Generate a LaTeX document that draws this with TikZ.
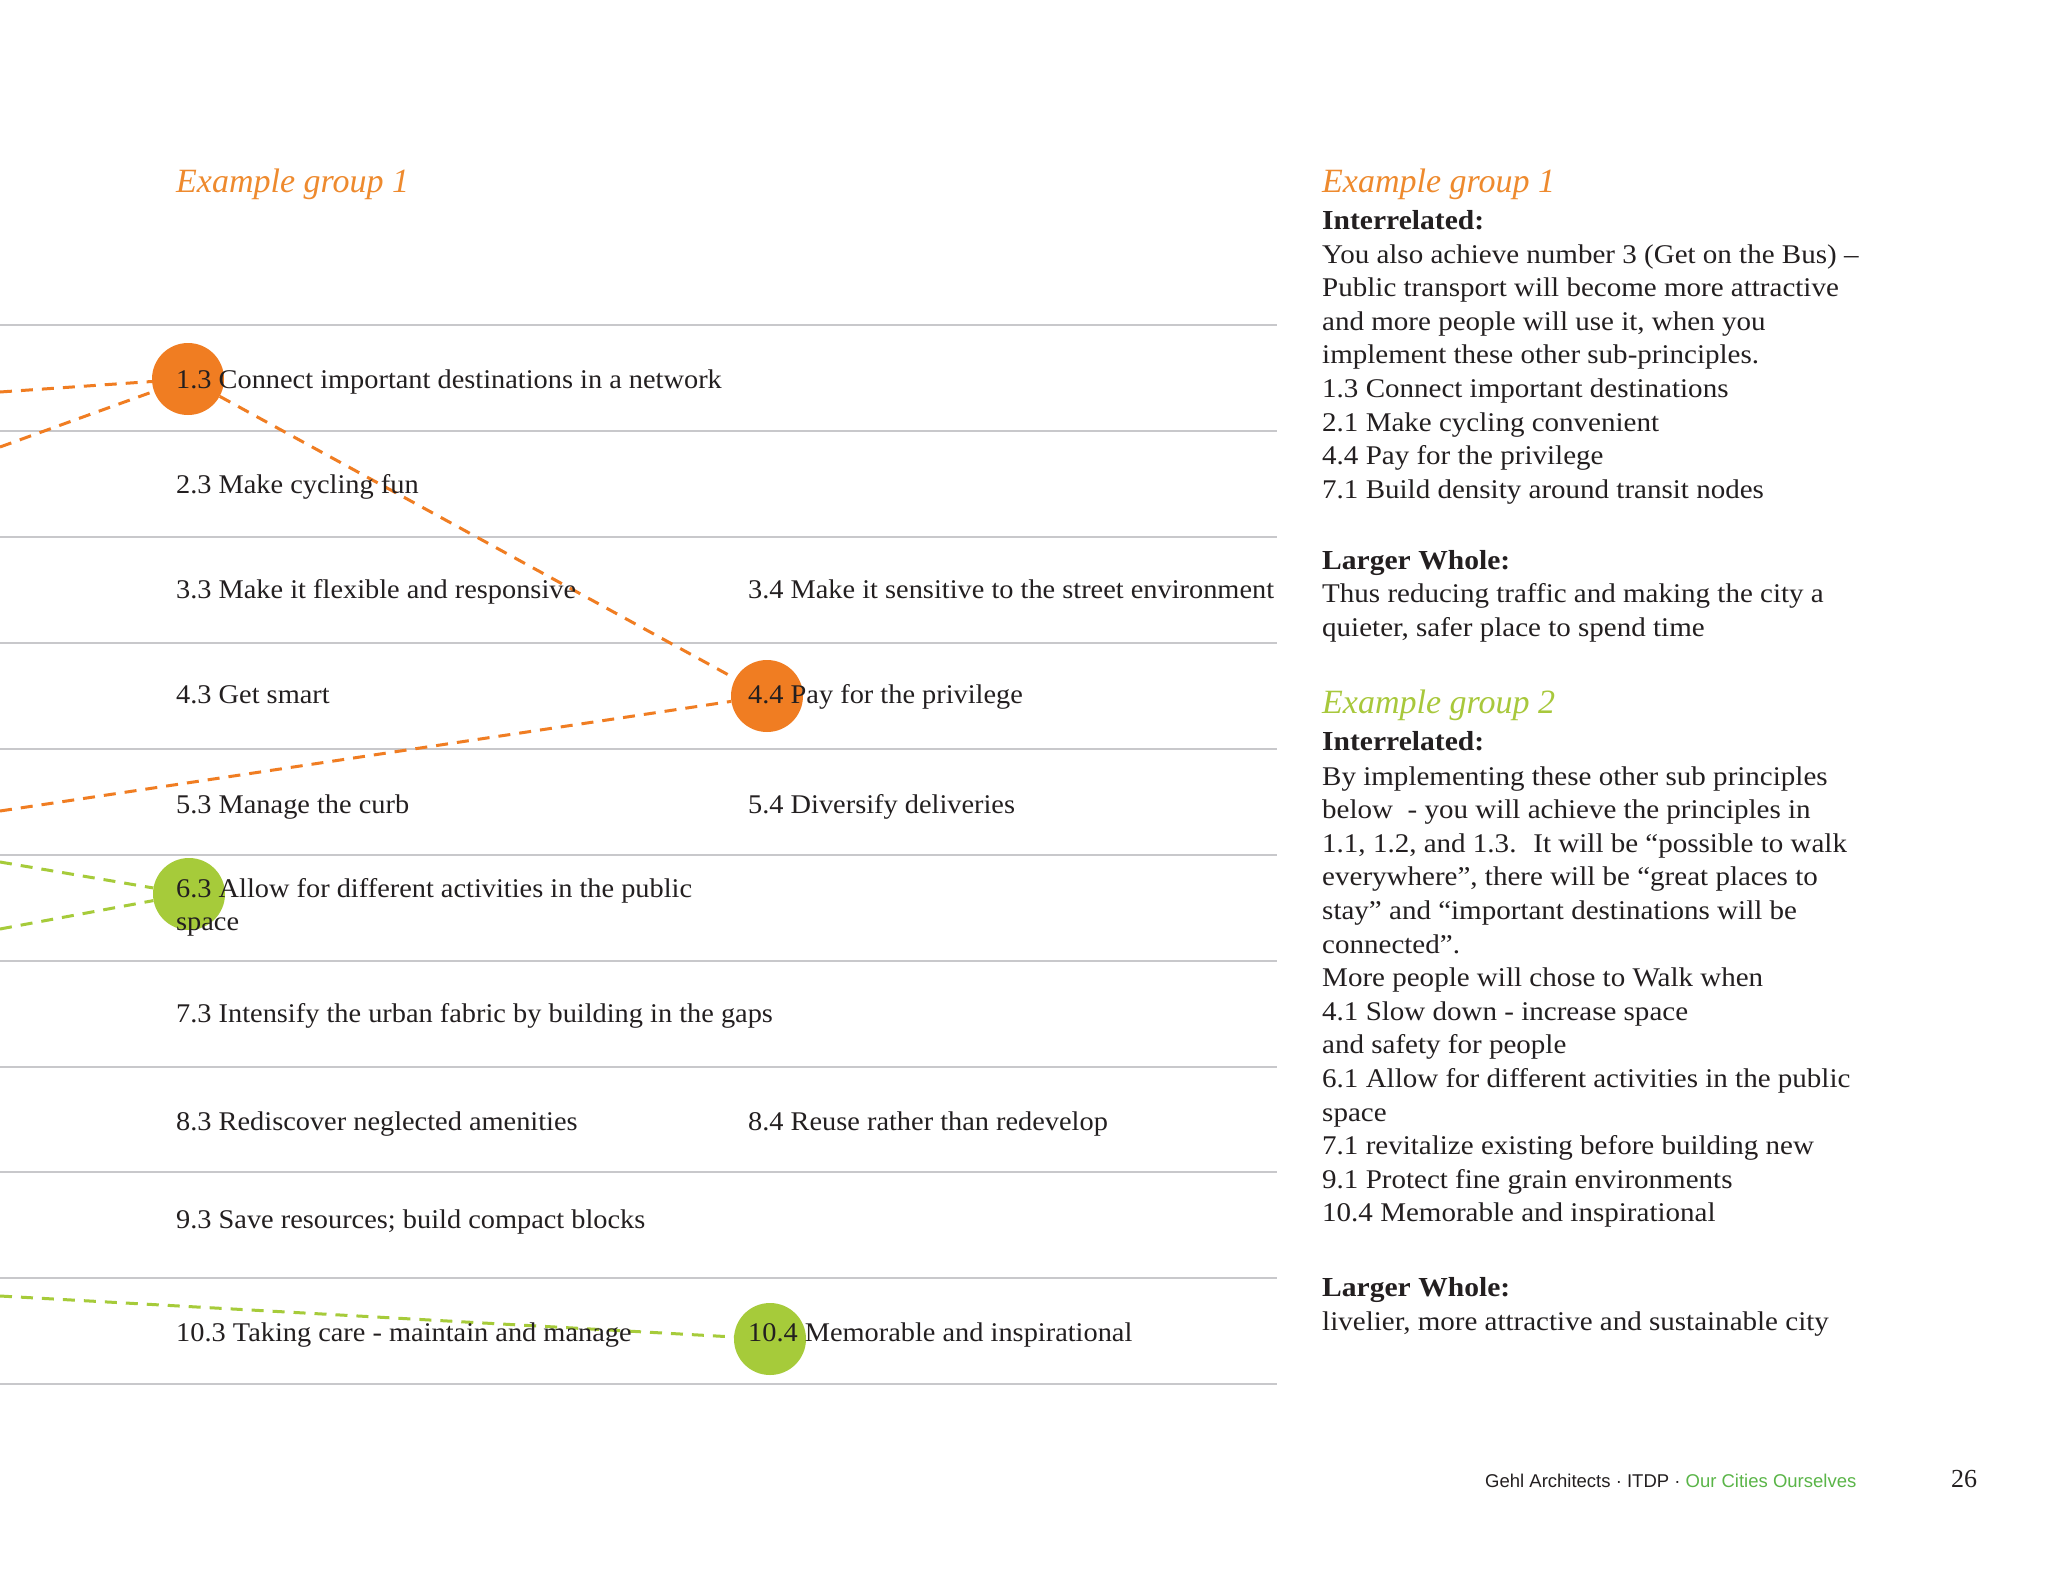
\documentclass[tikz,border=0pt]{standalone}
\usepackage{fontspec}
\setmainfont{Liberation Serif}
\newfontfamily\leftfont[FakeStretch=1.05]{Liberation Serif}
\newfontfamily\rightfont[FakeStretch=1.075]{Liberation Serif}
\newfontfamily\footfont{Liberation Sans}
\definecolor{ink}{HTML}{231F20}
\definecolor{linegray}{HTML}{C8C8CB}
\definecolor{orng}{HTML}{F07D22}
\definecolor{lime}{HTML}{A6CB3A}
\definecolor{titleorange}{HTML}{EE8A2E}
\definecolor{titlegreen}{HTML}{A8C83C}
\definecolor{footgreen}{HTML}{5AB548}
\tikzset{
  rowline/.style={draw=linegray, line width=2pt},
  lbl/.style={anchor=base west, inner sep=0pt, text=ink, font=\leftfont\fontsize{27}{33.6}\selectfont},
  rlbl/.style={anchor=base west, inner sep=0pt, text=ink, font=\rightfont\fontsize{27}{33.6}\selectfont},
  rhead/.style={anchor=base west, inner sep=0pt, text=ink, font=\rightfont\fontsize{27.5}{33.6}\selectfont\bfseries},
  grouptitle/.style={anchor=base west, inner sep=0pt, font=\fontsize{34}{36}\selectfont\itshape},
  dot/.style={circle, minimum size=72pt, inner sep=0pt},
  link/.style={line width=3pt, dash pattern=on 12pt off 9pt},
}
\begin{document}
\begin{tikzpicture}[x=1pt,y=-1pt]
\useasboundingbox (0,0) rectangle (2048,1582);
\fill[white] (0,0) rectangle (2048,1582);

% row separator lines
\foreach \yy in {325,431,537,643,749,855,961,1067,1172,1278,1384}
  \draw[rowline] (0,\yy) -- (1277,\yy);

% circles
\node[dot, fill=orng] (c13) at (188,379) {};
\node[dot, fill=orng] (c44) at (767,696) {};
\node[dot, fill=lime] (c63) at (189,894) {};
\node[dot, fill=lime] (c104) at (770,1339) {};

% free ends of connectors
\coordinate (oa) at (0,392);
\coordinate (ob) at (0,447);
\coordinate (od) at (0,811);
\coordinate (ga) at (0,862);
\coordinate (gb) at (0,929);
\coordinate (gc) at (0,1296);

% dashed connectors
\draw[link, draw=orng] (oa) -- (c13);
\draw[link, draw=orng] (ob) -- (c13);
\draw[link, draw=orng] (c13) -- (c44);
\draw[link, draw=orng] (od) -- (c44);
\draw[link, draw=lime] (ga) -- (c63);
\draw[link, draw=lime] (gb) -- (c63);
\draw[link, draw=lime] (gc) -- (c104);

% left title
\node[grouptitle, text=titleorange] (t1) at (176,192) {Example group 1};

% left labels
\node[lbl] (l13) at (176,388) {1.3 Connect important destinations in a network};
\node[lbl] (l23) at (176,493) {2.3 Make cycling fun};
\node[lbl] (l33) at (176,598) {3.3 Make it flexible and responsive};
\node[lbl] (l34) at (748,598) {3.4 Make it sensitive to the street environment};
\node[lbl] (l43) at (176,703) {4.3 Get smart};
\node[lbl] (l44) at (748,703) {4.4 Pay for the privilege};
\node[lbl] (l53) at (176,813) {5.3 Manage the curb};
\node[lbl] (l54) at (748,813) {5.4 Diversify deliveries};
\node[lbl] (l63a) at (176,897) {6.3 Allow for different activities in the public};
\node[lbl] (l63b) at (176,930) {space};
\node[lbl] (l73) at (176,1022) {7.3 Intensify the urban fabric by building in the gaps};
\node[lbl] (l83) at (176,1130) {8.3 Rediscover neglected amenities};
\node[lbl] (l84) at (748,1130) {8.4 Reuse rather than redevelop};
\node[lbl] (l93) at (176,1228) {9.3 Save resources; build compact blocks};
\node[lbl] (l103) at (176,1341) {10.3 Taking care - maintain and manage};
\node[lbl] (l104) at (748,1341) {10.4 Memorable and inspirational};

% right column, group 1
\node[grouptitle, text=titleorange] (r1t) at (1322,192) {Example group 1};
\node[rhead] (r1h) at (1322,229) {Interrelated:};
\node[rlbl] (r1a) at (1322,263) {You also achieve number 3 (Get on the Bus) –};
\node[rlbl] (r1b) at (1322,296.6) {Public transport will become more attractive};
\node[rlbl] (r1c) at (1322,330.2) {and more people will use it, when you};
\node[rlbl] (r1d) at (1322,363.8) {implement these other sub-principles.};
\node[rlbl] (r1e) at (1322,397.4) {1.3 Connect important destinations};
\node[rlbl] (r1f) at (1322,431) {2.1 Make cycling convenient};
\node[rlbl] (r1g) at (1322,464.6) {4.4 Pay for the privilege};
\node[rlbl] (r1i) at (1322,498.2) {7.1 Build density around transit nodes};
\node[rhead] (r1w) at (1322,569) {Larger Whole:};
\node[rlbl] (r1x) at (1322,602.6) {Thus reducing traffic and making the city a};
\node[rlbl] (r1y) at (1322,636.2) {quieter, safer place to spend time};

% right column, group 2
\node[grouptitle, text=titlegreen] (r2t) at (1322,713) {Example group 2};
\node[rhead] (r2h) at (1322,750) {Interrelated:};
\node[rlbl] (r2a) at (1322,785) {By implementing these other sub principles};
\node[rlbl] (r2b) at (1322,818.6) {below \ - you will achieve the principles in};
\node[rlbl] (r2c) at (1322,852.2) {1.1, 1.2, and 1.3. \ It will be “possible to walk};
\node[rlbl] (r2d) at (1322,885.8) {everywhere”, there will be “great places to};
\node[rlbl] (r2e) at (1322,919.4) {stay” and “important destinations will be};
\node[rlbl] (r2f) at (1322,953) {connected”.};
\node[rlbl] (r2g) at (1322,986.6) {More people will chose to Walk when};
\node[rlbl] (r2i) at (1322,1020.2) {4.1 Slow down - increase space};
\node[rlbl] (r2j) at (1322,1053.8) {and safety for people};
\node[rlbl] (r2k) at (1322,1087.4) {6.1 Allow for different activities in the public};
\node[rlbl] (r2l) at (1322,1121) {space};
\node[rlbl] (r2m) at (1322,1154.6) {7.1 revitalize existing before building new};
\node[rlbl] (r2n) at (1322,1188.2) {9.1 Protect fine grain environments};
\node[rlbl] (r2o) at (1322,1221.8) {10.4 Memorable and inspirational};
\node[rhead] (r2w) at (1322,1296) {Larger Whole:};
\node[rlbl] (r2x) at (1322,1330) {livelier, more attractive and sustainable city};

% footer
\node[anchor=base west, inner sep=0pt, font=\footfont\fontsize{18.5}{20}\selectfont, text=ink] (foot) at (1485,1487)
  {Gehl Architects · ITDP · \textcolor{footgreen}{Our Cities Ourselves}};
\node[anchor=base west, inner sep=0pt, font=\fontsize{26}{28}\selectfont, text=ink] (pg) at (1951,1487) {26};
\end{tikzpicture}
\end{document}
